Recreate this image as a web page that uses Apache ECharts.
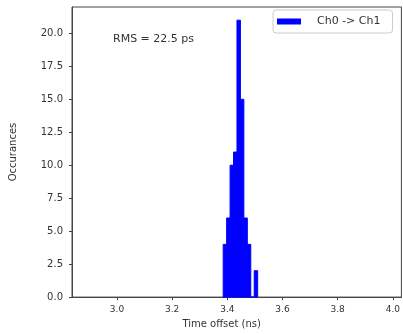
<!DOCTYPE html>
<html>
<head>
<meta charset="utf-8">
<script src="https://cdn.jsdelivr.net/npm/echarts@6/dist/echarts.min.js"></script>
<style>
  html, body { margin: 0; padding: 0; background: #fff; }
  #main { width: 403px; height: 334px; }
</style>
</head>
<body>
<div id="main"></div>
<script>
// histogram bins (ns) and counts
var binStart = 3.385;
var binWidth = 0.0125;
var counts = [4, 6, 10, 11, 21, 15, 6, 4, 0, 2];
var xTicks = [3.0, 3.2, 3.4, 3.6, 3.8, 4.0];
var yTicks = [0, 2.5, 5, 7.5, 10, 12.5, 15, 17.5, 20];

var histData = counts.map(function (c, i) {
    return [binStart + i * binWidth, binStart + (i + 1) * binWidth, c];
});

var myChart = echarts.init(document.getElementById('main'));
var font = 'DejaVu Sans';

option = {
    animation: false,
    title: {
        text: 'RMS = 22.5 ps',
        left: 113,
        top: 34,
        padding: 0,
        textStyle: { fontFamily: font, fontSize: 11, fontWeight: 'normal', color: '#333' }
    },
    legend: {
        data: [{ name: 'Ch0 -> Ch1', icon: 'rect' }],
        left: 273,
        top: 10,
        itemWidth: 24,
        itemHeight: 6,
        padding: [6, 12, 6, 4],
        borderColor: '#ccc',
        borderWidth: 1,
        borderRadius: 3,
        textStyle: { fontFamily: font, fontSize: 11, color: '#333', padding: [0, 0, 0, 11] }
    },
    grid: {
        left: 72,
        top: 7,
        right: 1,
        bottom: 34,
        show: true,
        borderColor: '#444',
        borderWidth: 1
    },
    xAxis: {
        type: 'value',
        min: 2.837,
        max: 4.031,
        name: 'Time offset (ns)',
        nameLocation: 'middle',
        nameGap: 17,
        nameTextStyle: { fontFamily: font, fontSize: 10, color: '#333', padding: [0, 30, 0, 0] },
        axisLine: { lineStyle: { color: '#444' } },
        axisTick: { length: 3, customValues: xTicks, lineStyle: { color: '#444' } },
        axisLabel: {
            customValues: xTicks,
            margin: 8,
            fontFamily: font,
            fontSize: 9,
            color: '#333',
            formatter: function (v) { return v.toFixed(1); }
        },
        splitLine: { show: false }
    },
    yAxis: {
        type: 'value',
        min: 0,
        max: 22,
        name: 'Occurances',
        nameLocation: 'middle',
        nameGap: 54,
        nameTextStyle: { fontFamily: font, fontSize: 10, color: '#333' },
        axisLine: { show: true, lineStyle: { color: '#444' } },
        axisTick: { show: true, length: 3, customValues: yTicks, lineStyle: { color: '#444' } },
        axisLabel: {
            customValues: yTicks,
            margin: 9,
            fontFamily: font,
            fontSize: 10,
            color: '#333',
            formatter: function (v) { return v.toFixed(1); }
        },
        splitLine: { show: false }
    },
    series: [{
        name: 'Ch0 -> Ch1',
        type: 'custom',
        itemStyle: { color: '#0000ff' },
        encode: { x: [0, 1], y: 2 },
        renderItem: function (params, api) {
            var p0 = api.coord([api.value(0), api.value(2)]);
            var p1 = api.coord([api.value(1), 0]);
            return {
                type: 'rect',
                shape: { x: p0[0], y: p0[1], width: p1[0] - p0[0], height: p1[1] - p0[1] },
                style: { fill: '#0000ff', stroke: '#0000ff', lineWidth: 1 }
            };
        },
        data: histData
    }]
};
myChart.setOption(option);
</script>
</body>
</html>
